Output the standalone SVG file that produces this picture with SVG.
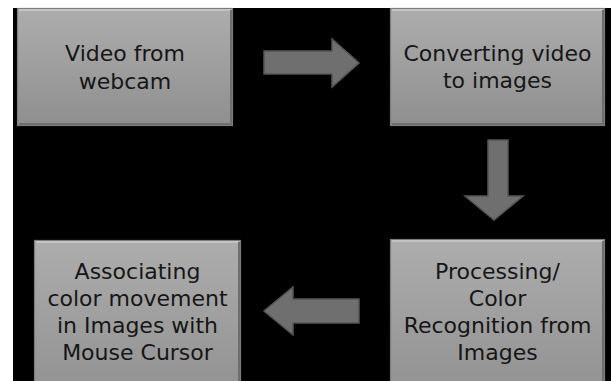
<svg xmlns="http://www.w3.org/2000/svg" width="611" height="381" viewBox="0 0 611 381">
  <style>
    .box { stroke: #7c7c7c; stroke-width: 1.2; }
    .hi { fill: none; stroke: #c4c4c4; stroke-width: 2; }
    .sh { fill: none; stroke: #6e6e6e; stroke-width: 2; }
    .lbl { font-family: "DejaVu Sans", "Open Sans", sans-serif; font-size: 22px; fill: #161616; text-anchor: middle; }
    .arrow { fill: #6f6f6f; stroke: #565656; stroke-width: 1.5; stroke-linejoin: miter; }
  </style>
  <defs>
    <linearGradient id="boxFillTop" x1="0" y1="0" x2="0" y2="1">
      <stop offset="0" stop-color="#adadad"/>
      <stop offset="1" stop-color="#8f8f8f"/>
    </linearGradient>
    <linearGradient id="boxFillBottom" x1="0" y1="0" x2="0" y2="1">
      <stop offset="0" stop-color="#adadad"/>
      <stop offset="1" stop-color="#929292"/>
    </linearGradient>
  </defs>

  <!-- page and black panel -->
  <rect x="0" y="0" width="611" height="381" fill="#ffffff"/>
  <rect x="13" y="8" width="598" height="373" fill="#000000"/>

  <g id="node-video">
    <rect class="box" x="17.5" y="8.5" width="215" height="117" fill="url(#boxFillTop)"/>
    <path class="hi" d="M19 10 H231"/>
    <path class="sh" d="M231 10 V124 H19"/>
    <text class="lbl" x="125" y="61">Video from</text>
    <text class="lbl" x="125" y="89">webcam</text>
  </g>

  <g id="node-convert">
    <rect class="box" x="390.5" y="8.5" width="214" height="117" fill="url(#boxFillTop)"/>
    <path class="hi" d="M392 10 H603"/>
    <path class="sh" d="M603 10 V124 H392"/>
    <text class="lbl" x="497.5" y="61">Converting video</text>
    <text class="lbl" x="497.5" y="88">to images</text>
  </g>

  <g id="node-process">
    <rect class="box" x="390.5" y="239.5" width="214" height="150" fill="url(#boxFillBottom)"/>
    <path class="hi" d="M392 241 H603"/>
    <path class="sh" d="M603 241 V390"/>
    <text class="lbl" x="497.5" y="279">Processing/</text>
    <text class="lbl" x="497.5" y="306">Color</text>
    <text class="lbl" x="497.5" y="333">Recognition from</text>
    <text class="lbl" x="497.5" y="360">Images</text>
  </g>

  <g id="node-associate">
    <rect class="box" x="34.5" y="240.5" width="206" height="150" fill="url(#boxFillBottom)"/>
    <path class="hi" d="M36 242 H239"/>
    <path class="sh" d="M239 242 V390"/>
    <text class="lbl" x="137.5" y="279">Associating</text>
    <text class="lbl" x="137.5" y="306">color movement</text>
    <text class="lbl" x="137.5" y="333">in Images with</text>
    <text class="lbl" x="137.5" y="360">Mouse Cursor</text>
  </g>

  <g id="connectors">
    <!-- video -> convert -->
    <path class="arrow" d="M264 51 H332 V39 L359 63 L332 87 V74 H264 Z"/>
    <!-- convert -> process -->
    <path class="arrow" d="M488 140 H508 V196 H523 L494 220 L465 196 H488 Z"/>
    <!-- process -> associate -->
    <path class="arrow" d="M359 299 H293 V287 L264 311 L293 335 V323 H359 Z"/>
  </g>
</svg>
